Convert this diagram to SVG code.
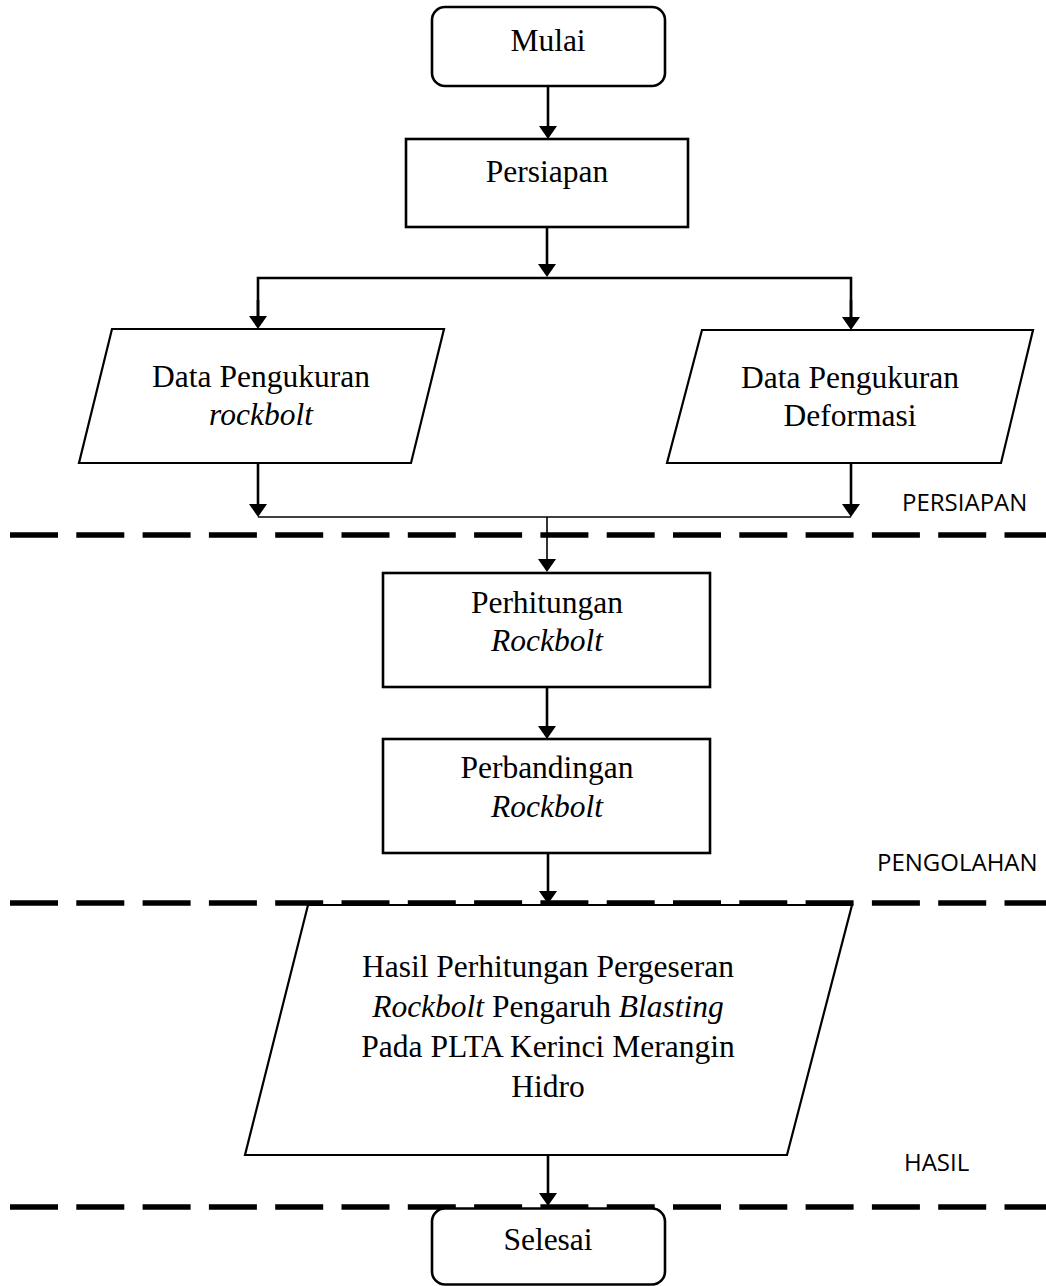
<svg xmlns="http://www.w3.org/2000/svg" width="1046" height="1286" viewBox="0 0 1046 1286">
<style>
.t{font-family:"Liberation Serif","Times New Roman",serif;font-size:31.5px;fill:#000;text-anchor:middle}
.i{font-style:italic}
.lbl{font-family:"Open Sans","Liberation Sans",sans-serif;font-size:24px;fill:#000}
.box{fill:#fff;stroke:#000;stroke-width:2.6}
.para{fill:#fff;stroke:#000;stroke-width:2.2}
.c{fill:none;stroke:#000;stroke-width:2.6}
.thin{fill:none;stroke:#000;stroke-width:1.6}
.dash{fill:none;stroke:#000;stroke-width:5.5;stroke-dasharray:48 18.3}
</style>
<defs>
<marker id="ah" viewBox="0 0 13 18" refX="7" refY="9" markerWidth="13" markerHeight="18" markerUnits="userSpaceOnUse" orient="auto">
<path d="M0,0 L13,9 L0,18 z" fill="#000"/>
</marker>
</defs>
<rect width="1046" height="1286" fill="#fff"/>
<g id="separators">
<line class="dash" x1="10" y1="535" x2="1046" y2="535"/>
<line class="dash" x1="10" y1="903" x2="1046" y2="903"/>
<line class="dash" x1="10" y1="1207" x2="1046" y2="1207"/>
</g>
<g id="connectors">
<line class="c" x1="548" y1="86" x2="548" y2="133" marker-end="url(#ah)"/>
<line class="c" x1="547" y1="227" x2="547" y2="271" marker-end="url(#ah)"/>
<polyline class="c" points="258,323 258,278 851,278 851,324"/>
<line class="c" x1="258" y1="300" x2="258" y2="323" marker-end="url(#ah)"/>
<line class="c" x1="851" y1="300" x2="851" y2="324" marker-end="url(#ah)"/>
<line class="c" x1="258" y1="463" x2="258" y2="511" marker-end="url(#ah)"/>
<line class="c" x1="851" y1="463" x2="851" y2="511" marker-end="url(#ah)"/>
<line class="thin" x1="258" y1="517" x2="851" y2="517"/>
<line class="thin" x1="547" y1="517" x2="547" y2="566" marker-end="url(#ah)"/>
<line class="c" x1="547" y1="687" x2="547" y2="733" marker-end="url(#ah)"/>
<line class="c" x1="548" y1="853" x2="548" y2="898" marker-end="url(#ah)"/>
<line class="c" x1="548" y1="1155" x2="548" y2="1200" marker-end="url(#ah)"/>
</g>
<g id="mulai">
<rect class="box" x="432" y="7" width="233" height="79" rx="13"/>
<text class="t" x="548" y="51">Mulai</text>
</g>
<g id="persiapan">
<rect class="box" x="406" y="139" width="282" height="88"/>
<text class="t" x="547" y="182">Persiapan</text>
</g>
<g id="data-rockbolt">
<polygon class="para" points="112,329 444,329 411,463 79,463"/>
<text class="t" x="261" y="387">Data Pengukuran</text>
<text class="t i" x="261" y="425">rockbolt</text>
</g>
<g id="data-deformasi">
<polygon class="para" points="702,330 1033,330 1001,463 667,463"/>
<text class="t" x="850" y="388">Data Pengukuran</text>
<text class="t" x="850" y="426">Deformasi</text>
</g>
<g id="perhitungan">
<rect class="box" x="383" y="573" width="327" height="114"/>
<text class="t" x="547" y="613">Perhitungan</text>
<text class="t i" x="547" y="651">Rockbolt</text>
</g>
<g id="perbandingan">
<rect class="box" x="383" y="739" width="327" height="114"/>
<text class="t" x="547" y="778">Perbandingan</text>
<text class="t i" x="547" y="817">Rockbolt</text>
</g>
<g id="hasil">
<polygon class="para" points="308,905 852,905 787,1155 245,1155"/>
<text class="t" x="548" y="977">Hasil Perhitungan Pergeseran</text>
<text class="t" x="548" y="1017"><tspan class="i">Rockbolt</tspan> Pengaruh <tspan class="i">Blasting</tspan></text>
<text class="t" x="548" y="1057">Pada PLTA Kerinci Merangin</text>
<text class="t" x="548" y="1097">Hidro</text>
</g>
<g id="selesai">
<rect class="box" x="432" y="1208.5" width="233" height="76" rx="13"/>
<text class="t" x="548" y="1250">Selesai</text>
</g>
<g id="labels">
<text class="lbl" x="902" y="511">PERSIAPAN</text>
<text class="lbl" x="877" y="871">PENGOLAHAN</text>
<text class="lbl" x="904" y="1171">HASIL</text>
</g>
</svg>
